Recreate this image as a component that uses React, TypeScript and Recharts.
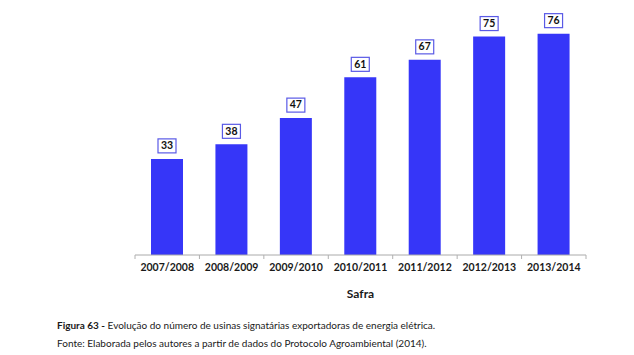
import React from 'react';
import { Bar, BarChart, LabelList, XAxis, YAxis } from 'recharts';

const safras = ['2007/2008', '2008/2009', '2009/2010', '2010/2011', '2011/2012', '2012/2013', '2013/2014'];
const usinas = [33, 38, 47, 61, 67, 75, 76];

const captionTitle = 'Figura 63 -';
const captionText = ' Evolução do número de usinas signatárias exportadoras de energia elétrica.';
const sourceText = 'Fonte: Elaborada pelos autores a partir de dados do Protocolo Agroambiental (2014).';

const data = safras.map((safra, i) => ({ safra, usinas: usinas[i] }));

const FONT = 'Lato, "Open Sans", sans-serif';
const BAR_COLOR = '#3636f8';
const HALF_BAND = 451 / safras.length / 2;

// Category tick with small boundary marks like the original Excel chart
const SafraTick = (props: any) => {
  const { x, y, payload, index } = props;
  const axisY = y - 8;
  return (
    <g>
      <line x1={x - HALF_BAND} x2={x - HALF_BAND} y1={axisY} y2={axisY + 4} stroke="#b0b0b0" />
      {index === safras.length - 1 && (
        <line x1={x + HALF_BAND} x2={x + HALF_BAND} y1={axisY} y2={axisY + 4} stroke="#b0b0b0" />
      )}
      <text x={x} y={y + 5} textAnchor="middle" dominantBaseline="middle" fontFamily={FONT} fontWeight={700} fontSize={10.5} fill="#1a1a1a">
        {payload.value}
      </text>
    </g>
  );
};

const ValueBox = (props: any) => {
  const { x, y, width, value } = props;
  const cx = x + width / 2;
  const w = 18;
  const h = 14;
  return (
    <g>
      <rect x={cx - w / 2} y={y - 6 - h} width={w} height={h} fill="#fff" stroke="#5a5ae6" strokeWidth={1.2} />
      <text x={cx} y={y - 6 - h / 2 + 0.5} textAnchor="middle" dominantBaseline="middle" fontFamily={FONT} fontWeight={700} fontSize={10.5} fill="#111">
        {value}
      </text>
    </g>
  );
};

export default function App() {
  return (
    <div style={{ position: 'fixed', left: 0, top: 0, width: 634, height: 355, background: '#fff' }}>
      <BarChart
        width={634}
        height={310}
        data={data}
        margin={{ top: 22, right: 48, left: 135, bottom: 10 }}
        barCategoryGap={0}
      >
        <XAxis
          dataKey="safra"
          height={45}
          axisLine={{ stroke: '#aaaaaa' }}
          tickLine={false}
          tick={<SafraTick />}
          interval={0}
          label={{ value: 'Safra', position: 'insideBottom', offset: 2, fontFamily: FONT, fontWeight: 700, fontSize: 12, fill: '#1a1a1a' }}
        />
        <YAxis hide domain={[0, 80]} />
        <Bar dataKey="usinas" fill={BAR_COLOR} barSize={32} isAnimationActive={false}>
          <LabelList dataKey="usinas" content={<ValueBox />} />
        </Bar>
      </BarChart>
      <div style={{ position: 'absolute', left: 57, top: 316, fontFamily: FONT, fontSize: 10, lineHeight: '18px', color: '#1a1a1a' }}>
        <div>
          <b>{captionTitle}</b>
          {captionText}
        </div>
        <div>{sourceText}</div>
      </div>
    </div>
  );
}
